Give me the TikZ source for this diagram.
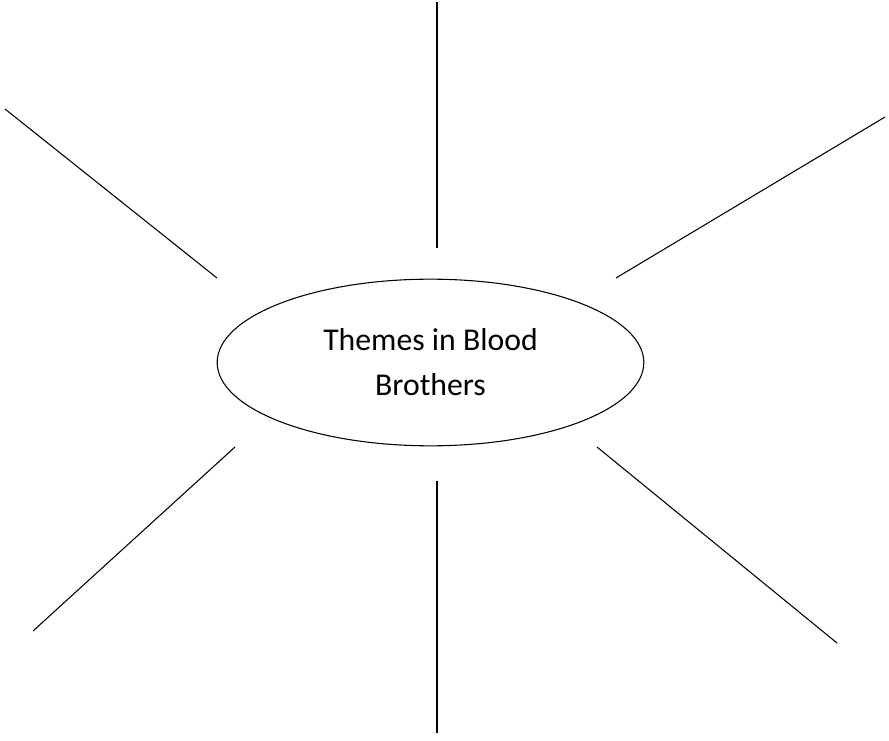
\documentclass[tikz,border=0pt]{standalone}
\usepackage{fontspec}
\setmainfont{Carlito}
\usetikzlibrary{shapes.geometric}

\begin{document}
\begin{tikzpicture}[x=0.75pt,y=-0.75pt,line width=0.8pt]
\tikzstyle{theme}=[draw, ellipse, inner sep=0pt, minimum width=320pt, minimum height=125pt, align=center, font=\fontsize{23.8}{33.75}\selectfont]
\tikzstyle{spoke}=[draw, line width=0.8pt]

\useasboundingbox (0,0) rectangle (889,741);

\node[theme] (T) at (430.5, 362.5) {Themes in Blood\\Brothers};

\coordinate (N1) at (437,   2);
\coordinate (N2) at (437, 248);
\coordinate (NW1) at (5, 109);
\coordinate (NW2) at (217, 278);
\coordinate (NE1) at (885, 117);
\coordinate (NE2) at (616, 278);
\coordinate (SW1) at (235, 447);
\coordinate (SW2) at (33, 631);
\coordinate (S1) at (437, 481);
\coordinate (S2) at (437, 733);
\coordinate (SE1) at (597, 447);
\coordinate (SE2) at (837, 643);

\draw[spoke] (N1) -- (N2);
\draw[spoke] (NW1) -- (NW2);
\draw[spoke] (NE1) -- (NE2);
\draw[spoke] (SW1) -- (SW2);
\draw[spoke] (S1) -- (S2);
\draw[spoke] (SE1) -- (SE2);

\end{tikzpicture}
\end{document}
